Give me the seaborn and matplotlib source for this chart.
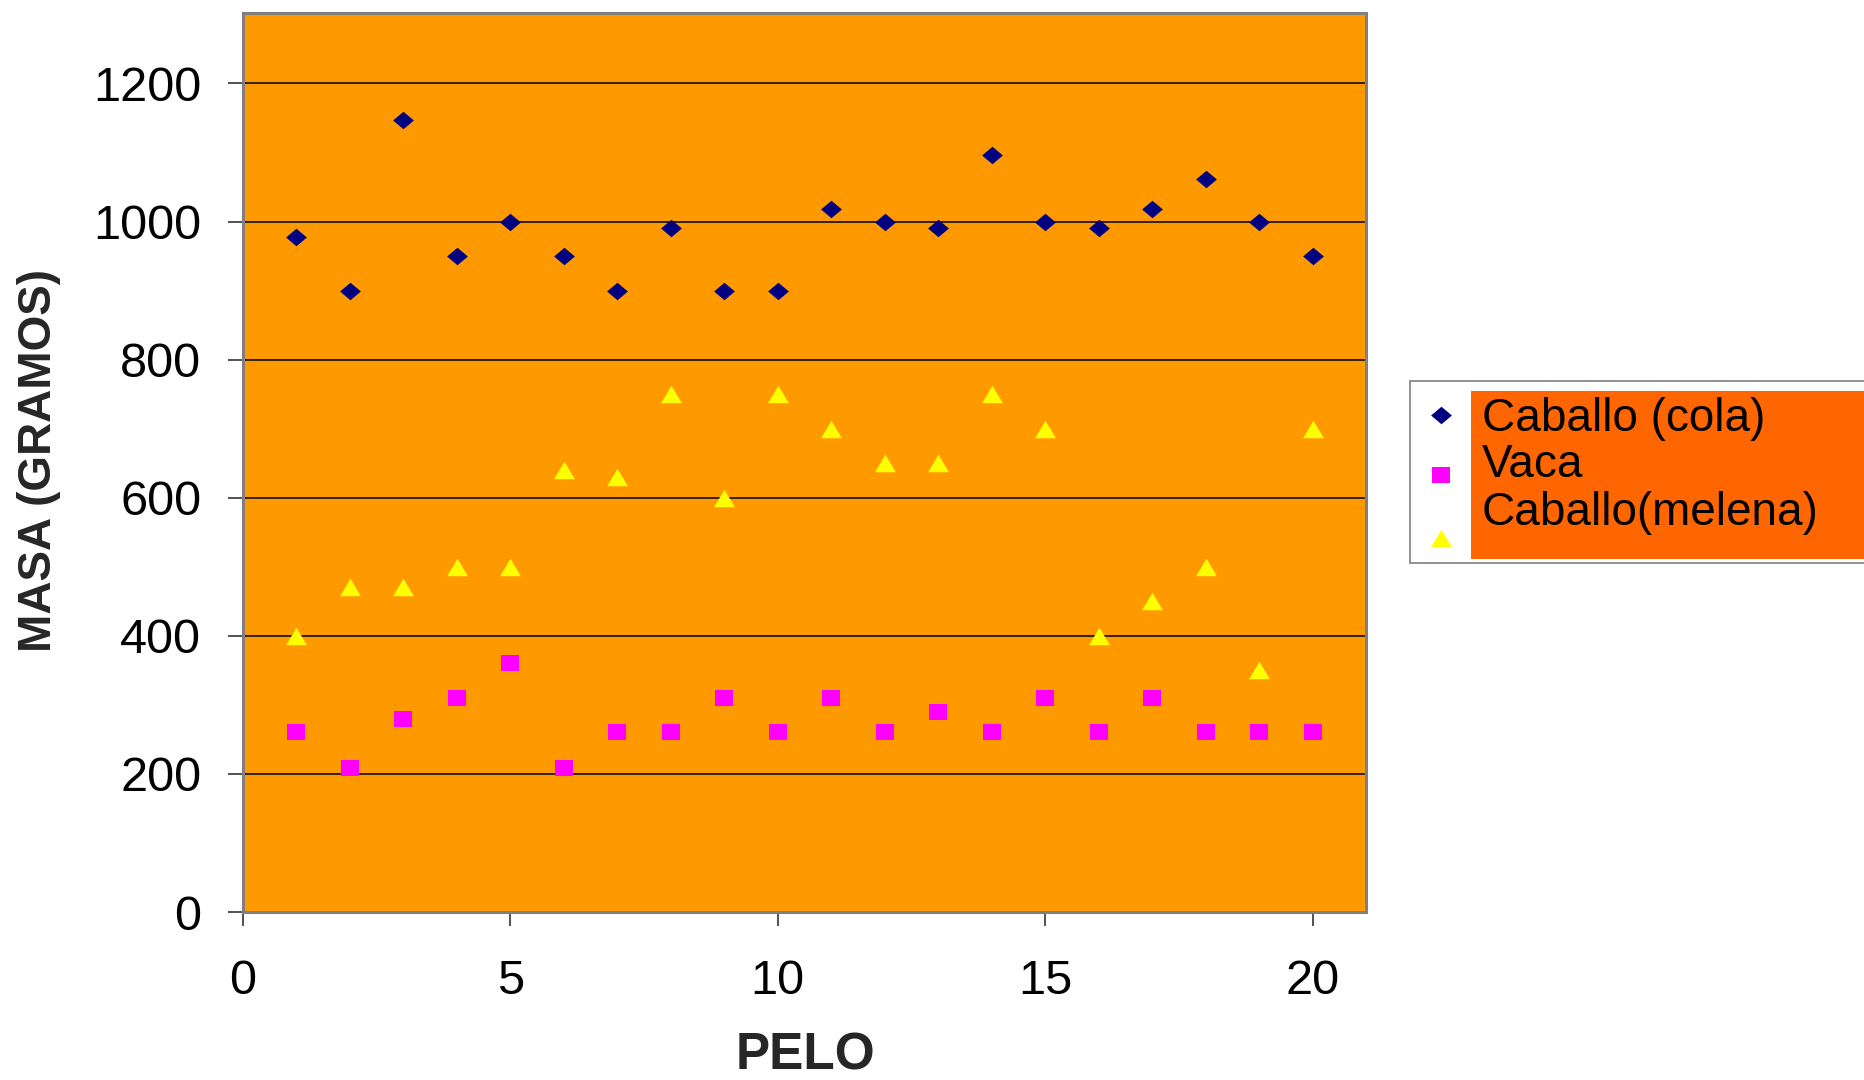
import matplotlib
matplotlib.use("Agg")
import matplotlib.pyplot as plt
from matplotlib import font_manager
from matplotlib.patches import Rectangle
from matplotlib.lines import Line2D
import seaborn as sns
import pandas as pd

# Sample number of each hair and its measured mass (grams)
pelo = list(range(1, 21))
caballo_cola = [978, 900, 1147, 950, 1000, 950, 900, 990, 900, 900,
                1018, 1000, 990, 1097, 1000, 990, 1018, 1062, 1000, 950]
vaca = [260, 208, 280, 310, 360, 208, 260, 260, 310, 260,
        310, 260, 290, 260, 310, 260, 310, 260, 260, 260]
caballo_melena = [400, 470, 470, 500, 500, 640, 630, 750, 600, 750,
                  700, 650, 650, 750, 700, 400, 450, 500, 350, 700]

series_names = ["Caballo (cola)", "Vaca", "Caballo(melena)"]
series_colors = ["#000080", "#FF00FF", "#FFFF00"]

# Slightly wide marker shapes: diamond, square, triangle
diamond = [(-1, 0), (0, 0.84), (1, 0), (0, -0.84), (-1, 0)]
square = [(-1, -0.875), (1, -0.875), (1, 0.875), (-1, 0.875), (-1, -0.875)]
triangle = [(-1, -0.84), (1, -0.84), (0, 0.84), (-1, -0.84)]
series_markers = [diamond, square, triangle]
series_ms = [15.0, 12.5, 15.0]

x_ticks = [0, 5, 10, 15, 20]
y_ticks = [0, 200, 400, 600, 800, 1000, 1200]


def pick_font(candidates):
    available = {f.name for f in font_manager.fontManager.ttflist}
    for name in candidates:
        if name in available:
            return name
    return "DejaVu Sans"


sns.set_style("white")
plain = pick_font(["Liberation Sans", "Arial"])
plt.rcParams["font.family"] = [plain, "DejaVu Sans"]

W, H = 1865, 1080
fig = plt.figure(figsize=(W / 100, H / 100), dpi=100)
ax = fig.add_axes([243 / W, 168 / H, 1123 / W, 899 / H])
ax.set_facecolor("#FF9900")

df = pd.DataFrame({
    "pelo": pelo * 3,
    "masa": caballo_cola + vaca + caballo_melena,
    "serie": [n for n in series_names for _ in pelo],
})

for name, color, marker, ms in zip(series_names, series_colors,
                                   series_markers, series_ms):
    sns.scatterplot(data=df[df["serie"] == name], x="pelo", y="masa",
                    color=color, marker=marker, s=ms ** 2, linewidth=0,
                    ax=ax, legend=False, zorder=3)

ax.set_xlim(0, 21)
ax.set_ylim(0, 1302)
ax.set_xticks(x_ticks)
ax.set_yticks(y_ticks)
ax.set_xlabel("")
ax.set_ylabel("")

ax.set_axisbelow(True)
ax.yaxis.grid(True, color="black", linewidth=1.1)
ax.xaxis.grid(False)

for side in ["left", "right", "top", "bottom"]:
    ax.spines[side].set_visible(True)
    ax.spines[side].set_color("#808080")
    ax.spines[side].set_linewidth(2.2)

ax.tick_params(axis="y", direction="out", length=11, width=1.2,
               color="#333333", pad=19, labelsize=35, labelcolor="black",
               left=True)
ax.tick_params(axis="x", direction="out", length=10, width=1.2,
               color="#333333", pad=24, labelsize=35, labelcolor="black",
               bottom=True)

# Axis titles
fig.text(39 / W, 1 - 461 / H, "MASA (GRAMOS)", rotation=90,
         ha="center", va="center", fontsize=33, fontweight="bold")
fig.text(805 / W, 1 - 1056 / H, "PELO", ha="center", va="center",
         fontsize=37, fontweight="bold")

# Legend box
fig.add_artist(Rectangle((1410 / W, 1 - 563 / H), (1875 - 1410) / W,
                         (563 - 381) / H, transform=fig.transFigure,
                         facecolor="white", edgecolor="#808080",
                         linewidth=1.2, zorder=1))
fig.add_artist(Rectangle((1471 / W, 1 - 559 / H), (1875 - 1471) / W,
                         (559 - 391) / H, transform=fig.transFigure,
                         facecolor="#FF6600", edgecolor="none", zorder=2))

marker_y = [415, 475, 538]
text_y = [419, 465, 513]
for name, color, marker, ms, my, ty in zip(series_names, series_colors,
                                           series_markers, series_ms,
                                           marker_y, text_y):
    fig.add_artist(Line2D([1441 / W], [1 - my / H], marker=marker,
                          markersize=ms, color=color, linestyle="none",
                          markeredgewidth=0, transform=fig.transFigure,
                          zorder=3))
    fig.text(1482 / W, 1 - ty / H, name, ha="left", va="center",
             fontsize=33, color="black", zorder=4)

fig.savefig("out.png", dpi=100)
